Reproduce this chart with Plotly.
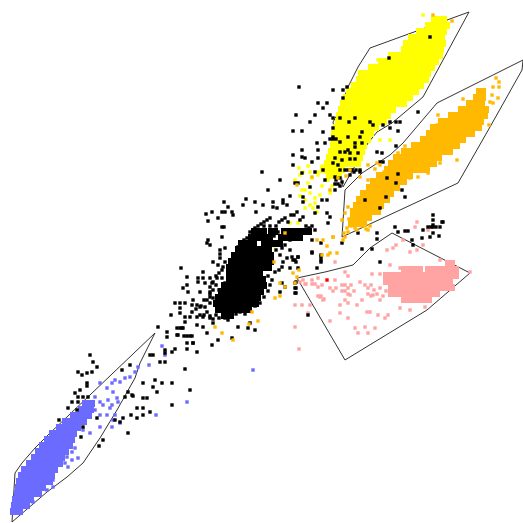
import numpy as np
import plotly.graph_objects as go

BLUE, YEL, ORA, PINK = "#6b6bff", "#ffff00", "#ffb900", "#ffa3a3"

blue_rows = [(402,84,93),(408,80,93),(414,72,90),(420,64,85),(426,58,81),(432,51,77),(438,46,74),(444,41,71),(450,37,68),(456,33,65),(462,28,62),(468,23,58),(474,20,55),(480,18,52),(486,17,46),(492,16,40),(498,14,34),(504,13,28),(510,12,22)]
yellow_rows = [(18,433,447),(24,427,448),(30,418,447),(36,410,445),(42,405,445),(48,403,443),(54,390,441),(60,380,438),(66,370,433),(72,360,430),(78,358,427),(84,353,422),(90,348,418),(96,345,412),(102,342,405),(108,340,395),(114,338,390),(120,337,385),(126,335,377),(132,333,373),(138,333,370),(144,332,366),(150,330,365),(156,328,363),(162,326,360),(168,322,345),(174,328,340)]
orange_rows = [(90,478,485),(96,475,485),(102,468,485),(108,460,487),(114,450,487),(120,440,484),(126,432,480),(132,428,475),(138,422,466),(144,413,460),(150,403,453),(156,395,440),(162,390,435),(168,386,430),(174,378,412),(180,372,405),(186,368,398),(192,362,392),(198,358,390),(204,355,382),(210,352,380),(216,352,372),(222,350,367)]
pink_rows = [(262,447,455),(268,403,423),(268,427,457),(274,385,457),(280,385,453),(286,390,453),(292,390,440),(298,403,430)]
black_rows = [(230,253,266),(230,270,277),(230,283,310),(236,250,273),(236,280,303),(242,240,256),(242,263,283),(248,237,270),(254,233,273),(260,230,273),(266,228,270),(272,228,263),(278,228,265),(284,223,265),(290,220,263),(296,217,260),(302,215,257),(308,217,252),(314,223,233)]

blue_x = [162,165,149,187,156,253,138,135,130,125,120,115,112,100,107,113,117,108,100,112,118,103,95,90,95,107,115,100,110,113,120,112,100,90,83,75,72,67,78,65,68,72,53,53,47,33]
blue_y = [346,355,365,402,415,370,367,372,377,378,382,380,383,383,388,392,398,400,402,405,402,405,397,405,410,415,415,415,408,420,423,427,427,433,430,448,452,457,458,463,467,460,480,487,490,502]

black_x = [158,167,167,177,177,182,190,184,187,193,165,165,172,175,187,197,150,153,160,165,185,90,93,97,92,87,78,82,87,87,80,75,78,78,83,88,72,68,77,59,83,81,103,99,128,123,120,115,131,137,143,137,143,150,143,147,172,190,172,162,155,153,157,143,128,132,133,125,130,122,97,
262,280,268,290,246,243,224,212,206,225,222,232,228,233,218,208,222,224,255,263,256,273,283,283,277,273,287,222,208,207,210,220,220,220,225,213,218,223,181,203,187,198,198,203,210,217,205,212,200,187,183,188,210,210,210,193,175,180,180,180,185,192,197,200,205,171,185,190,197,200,203,210,213,185,180,183,197,203,238,248,207,187,192,193,212,218,232,255,250,178,
290,293,298,296,285,282,290,298,317,312,321,321,282,285,280,296,296,296,
299,333,343,347,343,318,327,323,296,315,330,333,340,355,310,349,370,373,383,390,396,400,293,302,323,333,398,390,418,430,389,330,333,336,333,340,348,362,360,355,355,362,340,350,358,335,342,350,355,338,333,340,340,340,348,352,356,360,350,335,335,335,377,382,380,383,396,398,396,387,386,405,402,365,380,293,302,302,305,317,318,325,293,312,318,302,315,323,325,295,298,310,318,322,327,315,330,327,328,303,303,
433,433,433,433,428,431,436,440,443,442,423,433,439,430,422,405,408,395,398,412,413,377,377,358,372,380,362,312,321,342,312,321,321,308,295,295,295,292,298,295,
241,244,247,238,250,255,258,261,264,267,270,264,270,276,279,282,285,288,291,294,297,300,303,306,309,312,315,300,306,278,274,
225,222,219,216,213,216,222,225,219,213,210,213,207,210,204,201,196,192,207,204,210,213,216,219,225,228,231,236,240,245,250,255,260,264,268,270,272,268,275,279,283,287,280,276,282,290,295,
345,351,354,360,336,342,338,345,348]
black_y = [327,332,337,328,335,328,336,336,343,343,350,353,352,349,349,352,355,355,362,362,369,355,362,367,372,373,372,375,383,386,390,393,397,402,397,397,402,408,410,420,427,437,440,446,433,418,422,420,415,408,408,418,415,412,398,398,405,390,383,383,380,387,392,383,392,395,396,397,365,370,418,
172,180,190,196,199,205,202,212,214,212,212,212,207,215,218,221,227,227,202,205,212,202,200,203,208,207,205,237,240,243,245,250,254,258,248,262,265,267,268,272,277,278,282,278,278,278,283,283,292,285,288,292,287,292,297,300,303,303,308,313,303,305,305,307,307,315,317,317,317,315,317,318,323,322,328,328,325,327,327,328,333,336,336,343,345,340,338,330,323,335,
250,260,257,262,245,267,268,268,268,252,257,262,283,287,292,282,288,293,
87,90,90,87,98,103,103,108,115,115,115,118,118,118,122,122,122,125,125,122,122,122,131,131,132,128,131,128,112,37,58,139,139,139,137,142,137,132,137,143,147,143,152,153,153,158,160,159,159,165,163,170,178,186,170,170,170,170,175,177,184,190,152,153,162,162,146,174,183,178,197,197,190,200,208,155,150,157,158,143,150,143,165,162,158,173,172,170,180,183,183,187,207,200,200,213,217,213,223,197,202,
215,220,225,227,227,227,227,227,222,222,230,233,236,237,238,231,231,227,232,240,245,233,239,233,249,262,249,240,243,243,253,260,255,315,283,288,293,257,257,260,
243,240,238,247,232,228,226,224,222,220,218,226,226,226,222,220,218,222,215,215,212,220,217,226,228,226,230,232,233,232,236,
262,270,273,276,282,285,278,283,290,290,294,298,300,303,300,306,309,312,312,315,316,319,315,318,318,320,316,314,312,314,311,306,303,297,291,285,280,276,272,270,262,258,255,250,248,240,238,
170,170,172,172,180,182,184,152,150]

orange_x = [433,452,496,499,493,499,492,498,490,493,463,480,489,438,437,457,440,428,418,410,405,398,368,377,368,360,348,353,345,360,347,368,358,342,333,215,222,233,249,258,252,275,280,285,280,293,297,295,299,274,285,323,333,327,317,337,330,343,345,322,328,312,297,330,338,348,351,355,349,357,362,344,366,370,350,346,375,380,384]
orange_y = [15,21,78,82,87,87,95,98,102,103,99,90,125,115,125,160,163,173,177,178,146,153,165,163,180,177,207,213,213,217,228,230,223,220,237,327,333,340,324,321,312,298,296,287,283,273,277,283,270,262,233,240,237,246,240,253,253,240,237,255,255,177,185,190,178,232,226,228,219,230,226,233,229,226,170,176,169,165,172]

yellow_x = [423,378,380,390,305,310,315,315,302,305,290,298,274,318,312,308,325,300,295,322,310,328,332,330,320,305,300,313,317,322,327,308,303,299,310,318,325]
yellow_y = [15,60,140,140,200,193,198,203,190,208,223,223,246,172,178,183,180,175,180,186,205,180,186,193,195,190,196,208,212,166,170,166,172,168,172,175,172]

pink_x = [295,302,310,308,295,299,330,320,323,340,345,348,357,340,348,355,375,358,365,368,388,370,367,335,372,380,388,390,400,403,393,415,428,417,387,410,396,403,417,423,373,380,362,350,335,318,322,312,305,400,410,425,378,385,345,348,360,470,440,
312,315,318,330,333,336,318,321,324,300,303,306,342,345,348,351,342,345,348,354,365,368,371,374,368,371,377,380,383,386]
pink_y = [305,305,305,313,327,349,321,297,300,305,300,303,305,313,318,328,328,333,327,333,315,312,312,280,274,274,278,265,268,270,248,227,230,250,250,252,245,240,222,245,295,300,300,295,262,278,285,280,284,308,310,307,315,318,272,276,282,272,260,
284,284,287,288,291,288,296,296,299,282,280,284,285,285,288,285,291,291,294,291,285,288,285,290,294,296,294,288,296,291]

red_x = [327]
red_y = [280]

hull_blue_x = [12,15,22,35,48,127,155,140,135,117,100,83,67,47,12]
hull_blue_y = [522,473,463,448,435,360,333,363,378,410,438,463,477,492,522]
hull_yellow_x = [469,370,358,348,340,333,343,368,377,392,423,469]
hull_yellow_y = [12,48,67,87,110,122,187,143,132,123,97,12]
hull_orange_x = [342,345,362,390,403,437,523,522,490,458,342]
hull_orange_y = [237,190,173,155,143,103,60,70,127,183,237]
hull_pink_x = [470,392,370,353,325,297,345,427,470]
hull_pink_y = [273,233,248,265,272,278,360,310,273]


def expand(rows):
    xs, ys = [], []
    for y, a, b in rows:
        for yy in (y, y + 3):
            c = np.arange(a, b + 1, 3)
            xs.extend(c.tolist())
            ys.extend([yy] * len(c))
    return xs, ys


def pts(x, y, color, size=3.4):
    return go.Scatter(x=x, y=y, mode="markers", hoverinfo="skip",
                      marker=dict(symbol="square", size=size, color=color, line=dict(width=0)))


def hull(x, y):
    return go.Scatter(x=x, y=y, mode="lines", hoverinfo="skip", line=dict(color="#333333", width=1))


fig = go.Figure()
fig.add_trace(hull(hull_blue_x, hull_blue_y))
fig.add_trace(hull(hull_yellow_x, hull_yellow_y))
fig.add_trace(hull(hull_orange_x, hull_orange_y))
fig.add_trace(hull(hull_pink_x, hull_pink_y))
for rows, c in [(blue_rows, BLUE), (yellow_rows, YEL), (orange_rows, ORA), (pink_rows, PINK)]:
    fig.add_trace(pts(*expand(rows), c, 4))
fig.add_trace(pts(blue_x, blue_y, BLUE))
fig.add_trace(pts(yellow_x, yellow_y, YEL))
fig.add_trace(pts(pink_x, pink_y, PINK))
fig.add_trace(pts(*expand(black_rows), "#000000", 4))
fig.add_trace(pts(black_x, black_y, "#000000"))
fig.add_trace(pts(orange_x, orange_y, ORA))
fig.add_trace(pts(red_x, red_y, "#ff0000"))

fig.update_layout(width=523, height=523, margin=dict(l=0, r=0, t=0, b=0), showlegend=False,
                  paper_bgcolor="white", plot_bgcolor="white",
                  xaxis=dict(range=[0, 523], visible=False),
                  yaxis=dict(range=[523, 0], visible=False))
fig.write_html("out.html", config={"displayModeBar": False},
               post_script="document.body.style.margin='0';document.body.style.overflow='hidden';")
